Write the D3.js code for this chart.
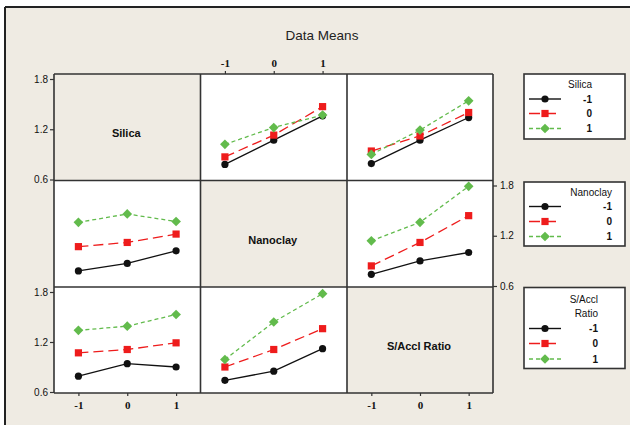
<!DOCTYPE html>
<html><head><meta charset="utf-8">
<script src="https://cdn.jsdelivr.net/npm/d3@7"></script>
<style>body{margin:0;background:#fff}svg{display:block}</style>
</head><body>
<svg id="c" width="630" height="425"></svg>
<script>
// ---- data ----
const factors = ["Silica", "Nanoclay", "S/Accl Ratio"];
const legendTitles = [["Silica"], ["Nanoclay"], ["S/Accl", "Ratio"]];
const levels = [-1, 0, 1];
const levelLabels = ["-1", "0", "1"];
const yTicks = [0.6, 1.2, 1.8];
// means[row][col] = series (by row factor level) across col factor levels
const silicaVsNanoclay = [[0.78, 1.07, 1.36], [0.87, 1.13, 1.47], [1.02, 1.22, 1.37]];
const silicaVsRatio    = [[0.79, 1.07, 1.34], [0.94, 1.12, 1.40], [0.90, 1.19, 1.54]];
const nanoclayVsSilica = [[0.78, 0.87, 1.02], [1.07, 1.12, 1.22], [1.36, 1.46, 1.37]];
const nanoclayVsRatio  = [[0.74, 0.90, 1.00], [0.84, 1.12, 1.44], [1.14, 1.36, 1.79]];
const ratioVsSilica    = [[0.79, 0.94, 0.90], [1.07, 1.11, 1.19], [1.34, 1.39, 1.53]];
const ratioVsNanoclay  = [[0.74, 0.85, 1.12], [0.90, 1.11, 1.36], [0.99, 1.44, 1.78]];
const panels = {
  "0-1": silicaVsNanoclay, "0-2": silicaVsRatio,
  "1-0": nanoclayVsSilica, "1-2": nanoclayVsRatio,
  "2-0": ratioVsSilica, "2-1": ratioVsNanoclay
};
const seriesColors = ["#111111", "#ee1c1c", "#62bb4c"];
const seriesDash = [null, "10,5", "4,3"];

// ---- layout ----
const svg = d3.select("#c");
const bg = "#efebe3";
svg.append("rect").attr("x", 5).attr("y", 7).attr("width", 625).attr("height", 418).attr("fill", bg);
svg.append("line").attr("x1", 5).attr("x2", 630).attr("y1", 7).attr("y2", 7).attr("stroke", "#222").attr("stroke-width", 2);
svg.append("line").attr("x1", 5).attr("x2", 5).attr("y1", 7).attr("y2", 425).attr("stroke", "#222").attr("stroke-width", 2);

svg.append("text").attr("x", 322).attr("y", 40).attr("text-anchor", "middle")
  .attr("font-family", "Liberation Sans, Arial, sans-serif").attr("font-size", 13.5).attr("fill", "#222").text("Data Means");

const colX = [54, 200.5, 347, 493];
const rowY = [74, 180.5, 287, 393];

const x = c => d3.scaleLinear().domain([-1.5, 1.5]).range([colX[c], colX[c + 1]]);
const y = r => d3.scaleLinear().domain([0.6, 1.8]).range([rowY[r + 1] - 1, rowY[r] + 5]);

const sans = "Liberation Sans, Arial, sans-serif";
const serif = "Liberation Serif, Times New Roman, serif";

function marker(g, i, cx, cy) {
  const col = seriesColors[i];
  if (i === 0) g.append("circle").attr("cx", cx).attr("cy", cy).attr("r", 3.6).attr("fill", col);
  else if (i === 1) g.append("rect").attr("x", cx - 3.6).attr("y", cy - 3.6).attr("width", 7.2).attr("height", 7.2).attr("fill", col);
  else g.append("path").attr("d", d3.symbol(d3.symbolDiamond2, 60)()).attr("transform", `translate(${cx},${cy})`).attr("fill", col);
}

for (let r = 0; r < 3; r++) {
  for (let c = 0; c < 3; c++) {
    const g = svg.append("g");
    const x0 = colX[c], x1 = colX[c + 1], y0 = rowY[r], y1 = rowY[r + 1];
    g.append("rect").attr("x", x0).attr("y", y0).attr("width", x1 - x0).attr("height", y1 - y0)
      .attr("fill", r === c ? bg : "#ffffff");
    if (r === c) {
      g.append("text").attr("x", (x0 + x1) / 2 - 1).attr("y", (y0 + y1) / 2 + 10)
        .attr("text-anchor", "middle").attr("font-family", sans).attr("font-weight", "bold")
        .attr("font-size", 11).attr("fill", "#111").text(factors[r]);
      continue;
    }
    const data = panels[r + "-" + c];
    const xs = x(c), ys = y(r);
    data.forEach((vals, i) => {
      const line = d3.line().x((d, k) => xs(levels[k])).y(d => ys(d));
      g.append("path").attr("d", line(vals)).attr("fill", "none").attr("stroke", seriesColors[i])
        .attr("stroke-width", 1.3).attr("stroke-dasharray", seriesDash[i]);
      vals.forEach((v, k) => marker(g, i, xs(levels[k]), ys(v)));
    });
  }
}
// grid lines
const grid = svg.append("g").attr("stroke", "#333").attr("stroke-width", 1.6);
colX.forEach(cx => grid.append("line").attr("x1", cx).attr("x2", cx).attr("y1", rowY[0]).attr("y2", rowY[3]));
rowY.forEach(cy => grid.append("line").attr("x1", colX[0]).attr("x2", colX[3]).attr("y1", cy).attr("y2", cy));

// axes
function styleAxis(sel, font, size) {
  sel.select(".domain").remove();
  sel.selectAll(".tick line").attr("stroke", "#333").attr("stroke-width", 1.2);
  sel.selectAll(".tick text").attr("font-family", font).attr("font-size", size).attr("fill", "#111").attr("font-weight", font === serif ? "bold" : "normal");
}
const fmtY = d3.format(".1f");
// left axis row 0 and row 2
[0, 2].forEach(r => {
  const a = svg.append("g").attr("transform", `translate(${colX[0]},0)`)
    .call(d3.axisLeft(y(r)).tickValues(yTicks).tickFormat(fmtY).tickSize(4).tickPadding(2));
  styleAxis(a, sans, 10);
});
// right axis row 1
{
  const a = svg.append("g").attr("transform", `translate(${colX[3]},0)`)
    .call(d3.axisRight(y(1)).tickValues(yTicks).tickFormat(fmtY).tickSize(4).tickPadding(3));
  styleAxis(a, sans, 10);
}
// top axis col 1
{
  const a = svg.append("g").attr("transform", `translate(0,${rowY[0]})`)
    .call(d3.axisTop(x(1)).tickValues(levels).tickFormat((d, i) => levelLabels[i]).tickSize(3).tickPadding(4));
  styleAxis(a, serif, 11);
}
// bottom axes col 0 and col 2
[0, 2].forEach(c => {
  const a = svg.append("g").attr("transform", `translate(0,${rowY[3]})`)
    .call(d3.axisBottom(x(c)).tickValues(levels).tickFormat((d, i) => levelLabels[i]).tickSize(3).tickPadding(5));
  styleAxis(a, serif, 11);
});

// legends
const legendBoxes = [
  {y: 74, h: 65, right: 592, titleY: [88], entryY: [99, 113.5, 128.5]},
  {y: 182, h: 64, right: 612, titleY: [195.5], entryY: [206.5, 221.5, 236.5]},
  {y: 287.5, h: 81, right: 598, titleY: [303, 317], entryY: [328.5, 343.5, 359]}
];
legendBoxes.forEach((L, f) => {
  const g = svg.append("g");
  g.append("rect").attr("x", 524).attr("y", L.y).attr("width", 101).attr("height", L.h)
    .attr("fill", "#fff").attr("stroke", "#333").attr("stroke-width", 1.6);
  legendTitles[f].forEach((t, j) => g.append("text").attr("x", L.right).attr("y", L.titleY[j])
    .attr("text-anchor", "end").attr("font-family", sans).attr("font-size", 10).attr("fill", "#111").text(t));
  levels.forEach((lv, i) => {
    const cy = L.entryY[i];
    g.append("line").attr("x1", 529).attr("x2", 561).attr("y1", cy).attr("y2", cy)
      .attr("stroke", seriesColors[i]).attr("stroke-width", 1.4).attr("stroke-dasharray", i === 0 ? null : (i === 1 ? "11,5" : "4,3"));
    marker(g, i, 545, cy);
    g.append("text").attr("x", L.right).attr("y", cy + 3.5).attr("text-anchor", "end")
      .attr("font-family", sans).attr("font-weight", "bold").attr("font-size", 10).attr("fill", "#111").text(levelLabels[i]);
  });
});
</script>
</body></html>
